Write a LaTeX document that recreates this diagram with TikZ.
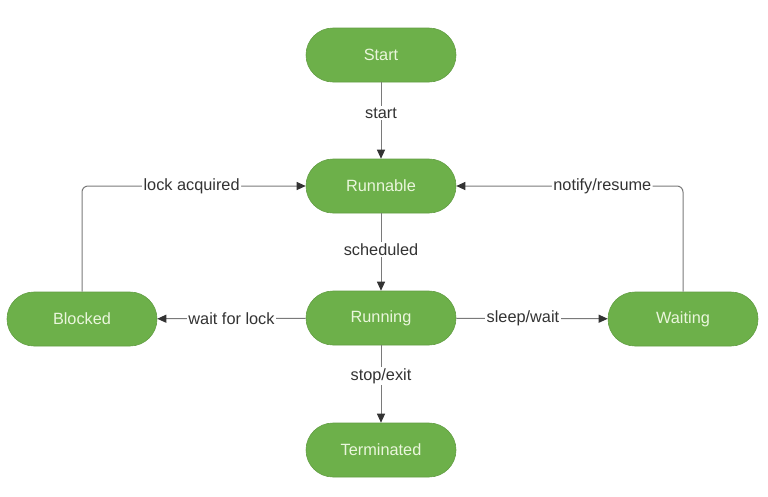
\documentclass[tikz,border=0pt]{standalone}
\usepackage{fontspec}
\setmainfont{Liberation Sans}
\usetikzlibrary{arrows.meta}
\definecolor{nodegreen}{HTML}{6DB04A}
\definecolor{nodetext}{HTML}{EAF6DC}
\definecolor{linegray}{HTML}{7A7A7A}
\definecolor{labeltext}{HTML}{333333}
\tikzset{
  state/.style={draw=nodegreen!90!black, line width=0.6pt, fill=nodegreen, rounded corners=27pt,
    minimum width=150pt, minimum height=54pt, text=nodetext, font=\fontsize{16.3}{19}\selectfont},
  conn/.style={draw=linegray, line width=1pt, -{Triangle[length=9pt,width=8pt,fill=labeltext,color=labeltext]}},
  lbl/.style={fill=white, text=labeltext, font=\fontsize{16.3}{19}\selectfont, inner sep=1.5pt}
}
\begin{document}
\begin{tikzpicture}[x=1pt,y=-1pt]
\useasboundingbox[fill=white] (0,0) rectangle (768,496);
\node[state] (start) at (381,55) {Start};
\node[state] (runnable) at (381,186) {Runnable};
\node[state] (running) at (381,318) {Running};
\node[state] (term) at (381,450) {Terminated};
\node[state] (blocked) at (82,319) {Blocked};
\node[state] (waiting) at (683,319) {Waiting};

\draw[conn] (start) -- node[lbl,pos=0.4] {start} (runnable);
\draw[conn] (runnable) -- node[lbl,pos=0.47] {scheduled} (running);
\draw[conn] (running) -- node[lbl,pos=0.4] {stop/exit} (term);
\draw[conn] (running) -- node[lbl,pos=0.5] {wait for lock} (blocked);
\draw[conn] (running) -- node[lbl,pos=0.44] {sleep/wait} (waiting);
\draw[conn, rounded corners=6pt] (blocked.north) |- node[lbl,pos=0.745] {lock acquired} (runnable.west);
\draw[conn, rounded corners=6pt] (waiting.north) |- node[lbl,pos=0.678] {notify/resume} (runnable.east);
\end{tikzpicture}
\end{document}
